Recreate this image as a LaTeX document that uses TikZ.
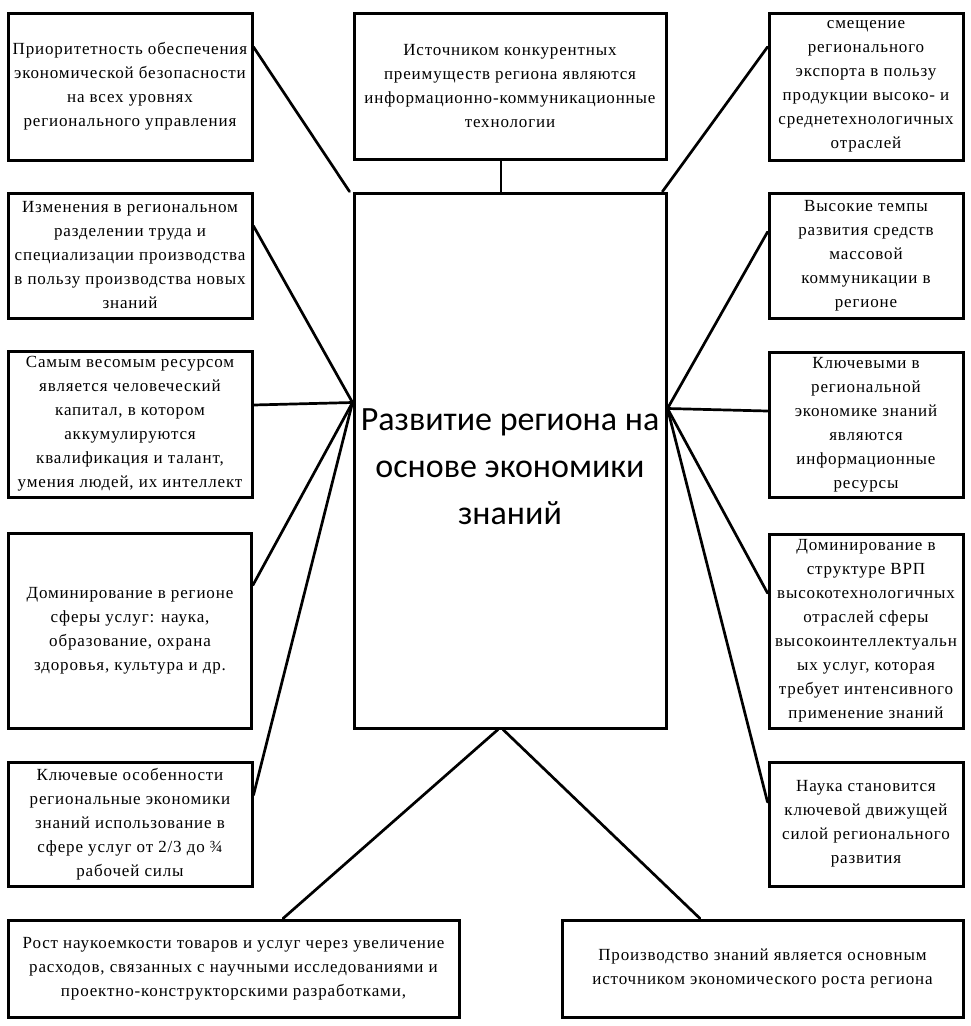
\documentclass[tikz,border=0pt]{standalone}
\usepackage{fontspec}
\setmainfont{Liberation Serif}[LetterSpace=5]
\newfontfamily\cf{Carlito}
\begin{document}
\begin{tikzpicture}[x=1pt,y=-1pt,
  bx/.style={draw=black, line width=3pt, fill=white, align=center, inner sep=0pt,
    font=\fontsize{17}{24}\selectfont},
  ln/.style={line width=2.7pt, line cap=round}]
\useasboundingbox[fill=white] (0,0) rectangle (970,1026);
% left column
\node[bx, minimum width=244, minimum height=147] (TL) at (130,86.5)
  {Приоритетность обеспечения\\экономической безопасности\\на всех уровнях\\регионального управления};
\node[bx, minimum width=244, minimum height=125] (L2) at (130,255.5)
  {Изменения в региональном\\разделении труда и\\специализации производства\\в пользу производства новых\\знаний};
\node[bx, minimum width=244, minimum height=146] (L3) at (130,424)
  {Самым весомым ресурсом\\является человеческий\\капитал, в котором\\аккумулируются\\квалификация и талант,\\умения людей, их интеллект};
\node[bx, minimum width=243, minimum height=195] (L4) at (130,630.5)
  {Доминирование в регионе\\сферы услуг: наука,\\образование, охрана\\здоровья, культура и др.};
\node[bx, minimum width=244, minimum height=124] (L5) at (130,824)
  {Ключевые особенности\\региональные экономики\\знаний использование в\\сфере услуг от 2/3 до ¾\\рабочей силы};
% center column
\node[bx, minimum width=312, minimum height=146] (TC) at (510,86)
  {Источником конкурентных\\преимуществ региона являются\\информационно-коммуникационные\\технологии};
\node[bx, minimum width=312, minimum height=535, font=\cf\fontsize{34}{47}\selectfont] (C) at (510,460.5)
  {\rule{0pt}{35pt}Развитие региона на\\основе экономики\\знаний};
% right column
\node[bx, minimum width=194, minimum height=147] (TR) at (866,86.5)
  {смещение\\регионального\\экспорта в пользу\\продукции высоко- и\\среднетехнологичных\\отраслей};
\node[bx, minimum width=194, minimum height=125] (R2) at (866,255.5)
  {Высокие темпы\\развития средств\\массовой\\коммуникации в\\регионе};
\node[bx, minimum width=194, minimum height=145] (R3) at (866,424.5)
  {Ключевыми в\\региональной\\экономике знаний\\являются\\информационные\\ресурсы};
\node[bx, minimum width=194, minimum height=194] (R4) at (866,631)
  {Доминирование в\\структуре ВРП\\высокотехнологичных\\отраслей сферы\\высокоинтеллектуальн\\ых услуг, которая\\требует интенсивного\\применение знаний};
\node[bx, minimum width=194, minimum height=124] (R5) at (866,824)
  {Наука становится\\ключевой движущей\\силой регионального\\развития};
% bottom
\node[bx, minimum width=451, minimum height=97] (BL) at (233.5,968.5)
  {Рост наукоемкости товаров и услуг через увеличение\\расходов, связанных с научными исследованиями и\\проектно-конструкторскими разработками,};
\node[bx, minimum width=401, minimum height=97] (BR) at (762.5,968.5)
  {Производство знаний является основным\\источником экономического роста региона};
% convergence points
\coordinate (lc) at ([yshift=58pt]C.west);
\coordinate (rc) at ([yshift=52pt]C.east);
% connectors
\draw[ln] ([yshift=39.5pt]TL.east) -- ([xshift=-3pt]C.north west);
\draw[ln] ([yshift=29.5pt]L2.east) -- (lc);
\draw[ln] ([yshift=19pt]L3.east) -- (lc);
\draw[ln] ([yshift=45.5pt]L4.east) -- (lc);
\draw[ln] ([yshift=29pt]L5.east) -- (lc);
\draw[ln] ([xshift=-9pt]TC.south) -- ([xshift=-9pt]C.north);
\draw[ln] ([yshift=39.5pt]TR.west) -- ([xshift=-5pt]C.north east);
\draw[ln] ([yshift=23.5pt]R2.west) -- (rc);
\draw[ln] ([yshift=13.5pt]R3.west) -- (rc);
\draw[ln] ([yshift=38pt]R4.west) -- (rc);
\draw[ln] ([yshift=22pt]R5.west) -- (rc);
\draw[ln] ([xshift=49.5pt]BL.north) -- ([xshift=-12pt]C.south);
\draw[ln] ([xshift=-62.5pt]BR.north) -- ([xshift=-7pt]C.south);
\end{tikzpicture}
\end{document}
